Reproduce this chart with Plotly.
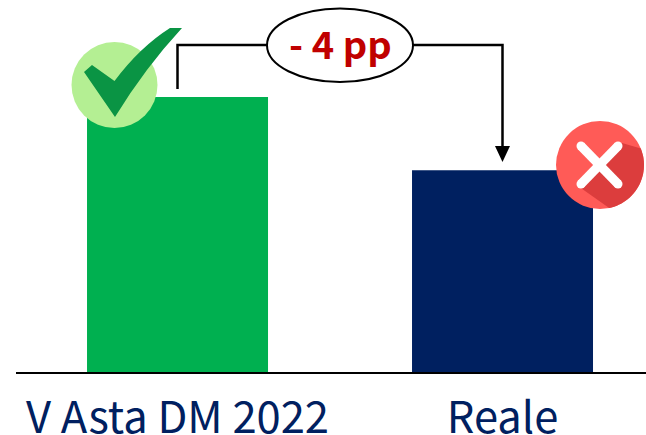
import numpy as np
import plotly.graph_objects as go

categories = ["V Asta DM 2022", "Reale"]
values = [15, 11]
bar_colors = ["#00B050", "#002060"]
delta_label = "- 4 pp"

W, H = 646, 435
L, R, T, B = 16, 0, 0, 63
pw, ph = W - L - R, H - T - B
YMAX = 20.29
FONT = "Noto Sans CJK JP"

def px(x): return (x - L) / pw
def py(y): return 1 - (y - T) / ph
def pth(pts, close=True):
    s = "M" + " L".join(f"{px(x):.5f},{py(y):.5f}" for x, y in pts)
    return s + (" Z" if close else "")
def pshape(path, fill=None, line=None, lw=0, **kw):
    d = dict(type="path", xref="paper", yref="paper", path=path, layer="above",
             line=dict(color=line or "rgba(0,0,0,0)", width=lw))
    if fill: d["fillcolor"] = fill
    d.update(kw)
    return d
def circle(cx, cy, r, fill, line=None, lw=0):
    return dict(type="circle", xref="paper", yref="paper", layer="above",
                x0=px(cx - r), x1=px(cx + r), y0=py(cy + r), y1=py(cy - r),
                fillcolor=fill, line=dict(color=line or "rgba(0,0,0,0)", width=lw))

fig = go.Figure(go.Bar(x=categories, y=values, marker=dict(color=bar_colors, line=dict(width=0)),
                       width=181 / 325, hoverinfo="skip"))

shapes = []
# connector
shapes.append(dict(type="path", xref="paper", yref="paper", layer="above",
                   path=pth([(177.5, 89), (177.5, 45), (502.5, 45), (502.5, 150)], close=False),
                   line=dict(color="#000000", width=2.5)))
shapes.append(pshape(pth([(495, 146), (510, 146), (502.5, 162)]), fill="#000000"))
# ellipse
shapes.append(dict(type="circle", xref="paper", yref="paper", layer="above",
                   x0=px(267), x1=px(413), y0=py(82), y1=py(8.5),
                   fillcolor="#FFFFFF", line=dict(color="#000000", width=2)))
# check icon
shapes.append(circle(114.5, 85, 43, "#B4EF93"))
shapes.append(pshape(
    f"M{px(182):.5f},{py(28):.5f} L{px(170):.5f},{py(28):.5f} "
    f"Q{px(140):.5f},{py(47):.5f} {px(114.5):.5f},{py(81):.5f} "
    f"L{px(92):.5f},{py(65):.5f} L{px(84):.5f},{py(72):.5f} L{px(115):.5f},{py(117):.5f} "
    f"Q{px(145):.5f},{py(68):.5f} {px(182):.5f},{py(28):.5f} Z", fill="#0A9444"))
# cross icon
cx, cy, r = 600, 165, 44
shapes.append(circle(cx, cy, r, "#FF5B57"))
ang = np.radians(np.linspace(-22, 78, 30))
arc = [(cx + r * np.cos(a), cy + r * np.sin(a)) for a in ang]
shapes.append(pshape(pth([(622, 143)] + arc + [(578, 186)]), fill="#DC3D3D"))
for a, b in [((581, 146), (618, 184)), ((618, 146), (581, 184))]:
    shapes.append(dict(type="path", xref="paper", yref="paper", layer="above",
                       path=pth([a, b], close=False), line=dict(color="#FFFFFF", width=9)))
    shapes.append(circle(a[0], a[1], 4.5, "#FFFFFF"))
    shapes.append(circle(b[0], b[1], 4.5, "#FFFFFF"))

fig.update_layout(
    width=W, height=H, autosize=False,
    margin=dict(l=L, r=R, t=T, b=B, pad=0, autoexpand=False),
    paper_bgcolor="#FFFFFF", plot_bgcolor="#FFFFFF", showlegend=False,
    shapes=shapes,
    xaxis=dict(type="category", categoryorder="array", categoryarray=categories, automargin=False,
               range=[-0.497, 1.4415], showline=True, linecolor="#000000", linewidth=2,
               showgrid=False, zeroline=False, ticks="outside", ticklen=7,
               tickcolor="rgba(0,0,0,0)", tickfont=dict(family=FONT, size=43.5, color="#002060")),
    yaxis=dict(range=[0, YMAX], visible=False, showgrid=False, zeroline=False, automargin=False),
    annotations=[dict(xref="paper", yref="paper", x=px(340.5), y=py(42), text=f"<b>{delta_label}</b>",
                      showarrow=False, xanchor="center", yanchor="middle",
                      font=dict(family=FONT, size=38, color="#C00000"))],
)
fig.write_html("out.html", config={"responsive": False, "displayModeBar": False},
               default_width="646px", default_height="435px",
               post_script="document.body.style.margin='0';document.documentElement.style.overflow='hidden';")
